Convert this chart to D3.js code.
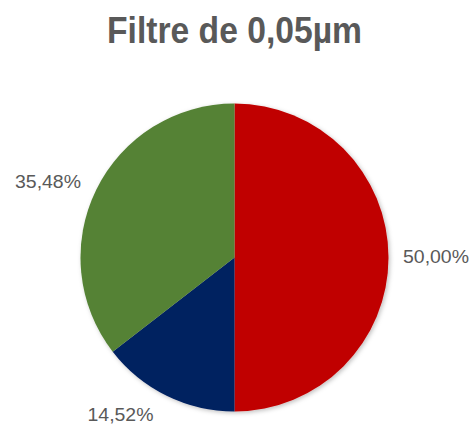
<!DOCTYPE html>
<html>
<head>
<meta charset="utf-8">
<script src="https://cdn.jsdelivr.net/npm/d3@7"></script>
<style>
  html, body { margin: 0; padding: 0; background: #ffffff; }
  svg { display: block; }
</style>
</head>
<body>
<script>
// Share of particles retained by the 0.05 µm filter
const categories = ["A", "B", "C"];
const values = [50.00, 14.52, 35.48];
const valueLabels = ["50,00%", "14,52%", "35,48%"];
const colors = ["#C00000", "#002060", "#548235"];

const width = 472, height = 425;
const cx = 234.5, cy = 257.5, radius = 154;

const svg = d3.select("body").append("svg")
  .attr("width", width)
  .attr("height", height);

const defs = svg.append("defs");
const filter = defs.append("filter").attr("id", "shadow")
  .attr("x", "-10%").attr("y", "-10%").attr("width", "120%").attr("height", "120%");
filter.append("feDropShadow")
  .attr("dx", 1.5).attr("dy", 1.5).attr("stdDeviation", 2)
  .attr("flood-color", "#000").attr("flood-opacity", 0.25);

svg.append("text")
  .attr("x", 234.5)
  .attr("y", 43)
  .attr("text-anchor", "middle")
  .attr("font-family", "Liberation Sans, Arial, sans-serif")
  .attr("font-weight", "bold")
  .attr("font-size", 37)
  .attr("textLength", 255)
  .attr("lengthAdjust", "spacingAndGlyphs")
  .attr("fill", "#595959")
  .text("Filtre de 0,05µm");

const pie = d3.pie().sort(null).value(d => d)(values);
const arc = d3.arc().innerRadius(0).outerRadius(radius);

const g = svg.append("g").attr("transform", `translate(${cx},${cy})`);
g.append("g").attr("filter", "url(#shadow)")
  .selectAll("path")
  .data(pie)
  .join("path")
  .attr("d", arc)
  .attr("fill", (d, i) => colors[i]);

// Data labels: anchor and offset relative to the pie centre
const labelLayout = [
  { anchor: "start",  x: 168.5,  y: 5.5 },
  { anchor: "middle", x: -114,   y: 163.5 },
  { anchor: "end",    x: -153.5, y: -69.5 }
];
g.selectAll("text.lbl")
  .data(pie)
  .join("text")
  .attr("class", "lbl")
  .attr("font-family", "Liberation Sans, Arial, sans-serif")
  .attr("font-size", 18.5)
  .attr("textLength", 66)
  .attr("lengthAdjust", "spacingAndGlyphs")
  .attr("fill", "#595959")
  .attr("text-anchor", (d, i) => labelLayout[i].anchor)
  .attr("x", (d, i) => labelLayout[i].x)
  .attr("y", (d, i) => labelLayout[i].y)
  .text((d, i) => valueLabels[i]);
</script>
</body>
</html>
